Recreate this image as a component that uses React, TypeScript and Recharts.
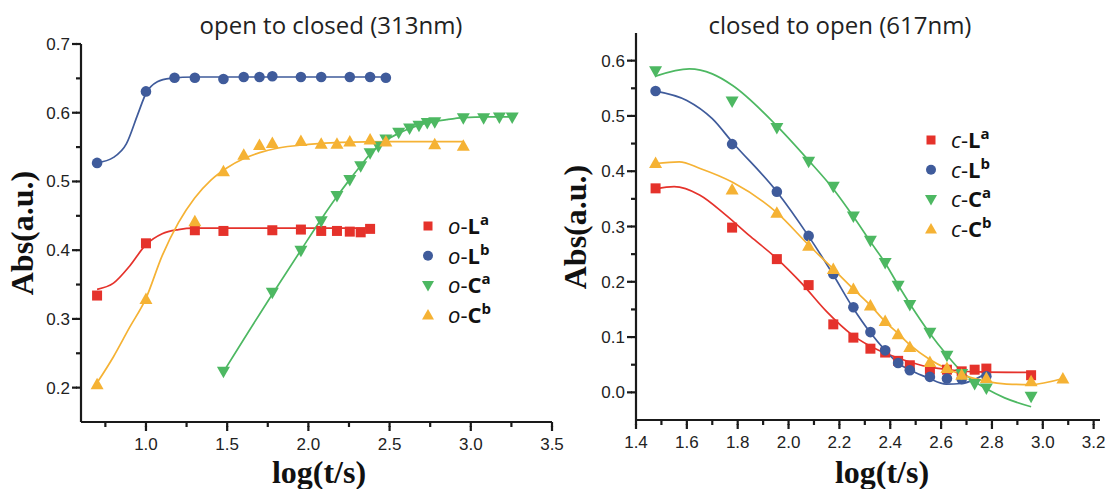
import React from 'react';
import { ComposedChart, Line, Scatter, XAxis, YAxis } from 'recharts';

// ---- open to closed (313nm): measured points [log(t/s), Abs] ----
const oLaPts = [[0.699, 0.334], [1.0, 0.410], [1.301, 0.429], [1.477, 0.428], [1.778, 0.429], [1.954, 0.430], [2.079, 0.428], [2.176, 0.428], [2.255, 0.427], [2.322, 0.426], [2.380, 0.431]];
const oLbPts = [[0.699, 0.527], [1.0, 0.631], [1.176, 0.651], [1.301, 0.651], [1.477, 0.649], [1.602, 0.652], [1.699, 0.652], [1.778, 0.653], [1.954, 0.652], [2.079, 0.652], [2.255, 0.652], [2.380, 0.652], [2.477, 0.651]];
const oCaPts = [[1.477, 0.223], [1.778, 0.338], [1.954, 0.399], [2.079, 0.442], [2.176, 0.479], [2.255, 0.502], [2.322, 0.522], [2.380, 0.541], [2.431, 0.551], [2.477, 0.561], [2.556, 0.571], [2.623, 0.577], [2.681, 0.581], [2.732, 0.585], [2.778, 0.586], [2.954, 0.592], [3.079, 0.592], [3.176, 0.593], [3.255, 0.593]];
const oCbPts = [[0.699, 0.205], [1.0, 0.329], [1.301, 0.442], [1.477, 0.515], [1.602, 0.539], [1.699, 0.553], [1.778, 0.556], [1.954, 0.559], [2.079, 0.555], [2.176, 0.555], [2.255, 0.558], [2.380, 0.561], [2.477, 0.558], [2.778, 0.554], [2.954, 0.552]];

// fitted curves
const oLaFit = [[0.699, 0.343], [0.8, 0.352], [0.9, 0.377], [1.0, 0.408], [1.1, 0.424], [1.2, 0.430], [1.3, 0.432], [1.8, 0.432], [2.38, 0.432]];
const oLbFit = [[0.699, 0.527], [0.8, 0.535], [0.88, 0.555], [0.95, 0.598], [1.0, 0.628], [1.07, 0.645], [1.15, 0.650], [1.3, 0.652], [2.477, 0.652]];
const oCaFit = [[1.477, 0.223], [1.778, 0.336], [1.954, 0.400], [2.079, 0.445], [2.176, 0.478], [2.255, 0.503], [2.322, 0.523], [2.38, 0.540], [2.477, 0.560], [2.556, 0.570], [2.623, 0.577], [2.732, 0.585], [2.85, 0.590], [2.954, 0.593], [3.1, 0.594], [3.255, 0.594]];
const oCbFit = [[0.699, 0.207], [0.8, 0.245], [0.9, 0.288], [1.0, 0.330], [1.1, 0.392], [1.2, 0.440], [1.3, 0.476], [1.4, 0.502], [1.5, 0.520], [1.6, 0.533], [1.7, 0.542], [1.8, 0.548], [2.0, 0.554], [2.2, 0.557], [2.5, 0.558], [2.954, 0.558]];

// ---- closed to open (617nm) ----
const cLaPts = [[1.477, 0.369], [1.778, 0.298], [1.954, 0.241], [2.079, 0.194], [2.176, 0.123], [2.255, 0.099], [2.322, 0.079], [2.380, 0.072], [2.431, 0.057], [2.477, 0.049], [2.556, 0.041], [2.623, 0.041], [2.681, 0.038], [2.732, 0.041], [2.778, 0.043], [2.954, 0.031]];
const cLbPts = [[1.477, 0.545], [1.778, 0.449], [1.954, 0.363], [2.079, 0.283], [2.176, 0.214], [2.255, 0.154], [2.322, 0.109], [2.380, 0.076], [2.431, 0.053], [2.477, 0.040], [2.556, 0.028], [2.623, 0.025], [2.681, 0.024], [2.778, 0.029]];
const cCaPts = [[1.477, 0.581], [1.778, 0.526], [1.954, 0.478], [2.079, 0.417], [2.176, 0.372], [2.255, 0.318], [2.322, 0.274], [2.380, 0.234], [2.431, 0.193], [2.477, 0.158], [2.556, 0.108], [2.623, 0.066], [2.681, 0.033], [2.732, 0.015], [2.778, 0.007], [2.954, -0.008]];
const cCbPts = [[1.477, 0.415], [1.778, 0.367], [1.954, 0.325], [2.079, 0.265], [2.176, 0.223], [2.255, 0.187], [2.322, 0.157], [2.380, 0.129], [2.431, 0.105], [2.477, 0.082], [2.556, 0.055], [2.623, 0.044], [2.681, 0.032], [2.778, 0.026], [2.954, 0.020], [3.079, 0.025]];

const cLaFit = [[1.477, 0.368], [1.55, 0.372], [1.65, 0.357], [1.75, 0.322], [1.85, 0.282], [1.954, 0.242], [2.05, 0.198], [2.15, 0.146], [2.25, 0.104], [2.35, 0.077], [2.45, 0.059], [2.55, 0.046], [2.65, 0.040], [2.75, 0.037], [2.954, 0.036]];
const cLbFit = [[1.477, 0.545], [1.6, 0.528], [1.7, 0.495], [1.78, 0.452], [1.954, 0.363], [2.078, 0.283], [2.174, 0.214], [2.252, 0.154], [2.32, 0.109], [2.38, 0.076], [2.43, 0.053], [2.48, 0.040], [2.55, 0.026], [2.62, 0.015], [2.68, 0.016], [2.73, 0.023], [2.78, 0.035]];
const cCaFit = [[1.477, 0.572], [1.61, 0.585], [1.7, 0.576], [1.78, 0.555], [1.954, 0.482], [2.078, 0.420], [2.176, 0.368], [2.255, 0.318], [2.32, 0.274], [2.38, 0.234], [2.43, 0.195], [2.48, 0.158], [2.554, 0.108], [2.622, 0.068], [2.68, 0.038], [2.73, 0.020], [2.78, 0.006], [2.85, -0.010], [2.954, -0.026]];
const cCbFit = [[1.477, 0.414], [1.57, 0.417], [1.652, 0.405], [1.78, 0.380], [1.954, 0.325], [2.078, 0.267], [2.176, 0.223], [2.255, 0.187], [2.323, 0.157], [2.38, 0.128], [2.432, 0.106], [2.48, 0.085], [2.554, 0.060], [2.622, 0.043], [2.681, 0.032], [2.776, 0.020], [2.858, 0.015], [2.95, 0.014], [3.079, 0.025]];

// ticks (majors get a label, the rest are minor ticks)
const leftXTicks = [0.75, 1.0, 1.25, 1.5, 1.75, 2.0, 2.25, 2.5, 2.75, 3.0, 3.25, 3.5];
const leftYTicks = [0.2, 0.25, 0.3, 0.35, 0.4, 0.45, 0.5, 0.55, 0.6, 0.65, 0.7];
const rightXTicks = [1.4, 1.5, 1.6, 1.7, 1.8, 1.9, 2.0, 2.1, 2.2, 2.3, 2.4, 2.5, 2.6, 2.7, 2.8, 2.9, 3.0, 3.1, 3.2];
const rightYTicks = [0, 0.05, 0.1, 0.15, 0.2, 0.25, 0.3, 0.35, 0.4, 0.45, 0.5, 0.55, 0.6];

const leftTitle = 'open to closed (313nm)';
const rightTitle = 'closed to open (617nm)';
const xTitle = 'log(t/s)';
const yTitle = 'Abs(a.u.)';
const leftLegend = [['o', 'L', 'a'], ['o', 'L', 'b'], ['o', 'C', 'a'], ['o', 'C', 'b']];
const rightLegend = [['c', 'L', 'a'], ['c', 'L', 'b'], ['c', 'C', 'a'], ['c', 'C', 'b']];

const RED = '#e5322b';
const BLUE = '#3f5b9b';
const GREEN = '#4db862';
const ORANGE = '#f5b234';
const COLORS = [RED, BLUE, GREEN, ORANGE];
const AXIS = '#1a1a1a';
const TICK_FONT = '"Liberation Sans", Arial, sans-serif';
const MINOR = 5; // native tick length, majors get a few px more

const toXY = (arr: number[][]) => arr.map(([x, y]) => ({ x, y }));

const isMajor = (v: number, perUnit: number) => Math.abs(v * perUnit - Math.round(v * perUnit)) < 1e-6;

// x / y arrive already offset by the native tick length
const makeXTick = (perUnit: number) => (props: any) => {
  const { x, y, payload } = props;
  if (!isMajor(payload.value, perUnit)) return <g />;
  return (
    <g>
      <rect x={x - 1.1} y={y - 1} width={2.2} height={5} fill={AXIS} />
      <text x={x} y={y + 23} textAnchor="middle" fontSize={17} fill="#222" fontFamily={TICK_FONT}>
        {payload.value.toFixed(1)}
      </text>
    </g>
  );
};

const makeYTick = (perUnit: number) => (props: any) => {
  const { x, y, payload } = props;
  if (!isMajor(payload.value, perUnit)) return <g />;
  return (
    <g>
      <rect x={x - 4} y={y - 1.1} width={5} height={2.2} fill={AXIS} />
      <text x={x - 6} y={y + 6} textAnchor="end" fontSize={17} fill="#222" fontFamily={TICK_FONT}>
        {payload.value.toFixed(1)}
      </text>
    </g>
  );
};

// marker shapes for the four series
const square = (color: string) => (p: any) => <rect x={p.cx - 5} y={p.cy - 5} width={10} height={10} fill={color} />;
const circle = (color: string) => (p: any) => <circle cx={p.cx} cy={p.cy} r={5.3} fill={color} />;
const triDown = (color: string) => (p: any) => (
  <polygon points={`${p.cx - 6.5},${p.cy - 5} ${p.cx + 6.5},${p.cy - 5} ${p.cx},${p.cy + 6.5}`} fill={color} />
);
const triUp = (color: string) => (p: any) => (
  <polygon points={`${p.cx - 6.5},${p.cy + 5} ${p.cx + 6.5},${p.cy + 5} ${p.cx},${p.cy - 6.5}`} fill={color} />
);
const SHAPES = [square(RED), circle(BLUE), triDown(GREEN), triUp(ORANGE)];

const LegendMarker = ({ i, x, y }: { i: number; x: number; y: number }) => {
  const c = COLORS[i];
  if (i === 0) return <rect x={x - 4.5} y={y - 4.5} width={9} height={9} fill={c} />;
  if (i === 1) return <circle cx={x} cy={y} r={5} fill={c} />;
  if (i === 2) return <polygon points={`${x - 6},${y - 4.5} ${x + 6},${y - 4.5} ${x},${y + 6}`} fill={c} />;
  return <polygon points={`${x - 6},${y + 4.5} ${x + 6},${y + 4.5} ${x},${y - 6}`} fill={c} />;
};

const Legend = ({ items, mx, tx, y0 }: { items: string[][]; mx: number; tx: number; y0: number }) => (
  <g>
    {items.map((it, i) => {
      const y = y0 + i * 29.7;
      return (
        <g key={i}>
          <LegendMarker i={i} x={mx} y={y} />
          <text x={tx} y={y + 8} fontSize={22} fill="#111" fontFamily='"Open Sans", sans-serif'>
            <tspan fontStyle="italic">{it[0]}</tspan>
            <tspan>-</tspan>
            <tspan fontWeight="bold">{it[1]}</tspan>
            <tspan fontWeight="bold" fontSize={15} dy={-9}>{it[2]}</tspan>
          </text>
        </g>
      );
    })}
  </g>
);

const Panel = ({ pts, fits, xDomain, yDomain, xTicks, yTicks, xPer, yPer, width, margin }: any) => (
  <ComposedChart width={width} height={489} margin={margin}>
    <XAxis
      type="number"
      dataKey="x"
      domain={xDomain}
      ticks={xTicks}
      interval={0}
      allowDataOverflow
      height={30}
      tickSize={MINOR}
      tickMargin={0}
      stroke={AXIS}
      tickLine={{ stroke: AXIS, strokeWidth: 2.2 }}
      axisLine={{ stroke: AXIS, strokeWidth: 2.2 }}
      tick={makeXTick(xPer)}
    />
    <YAxis
      type="number"
      dataKey="y"
      domain={yDomain}
      ticks={yTicks}
      interval={0}
      allowDataOverflow
      width={50}
      tickSize={MINOR}
      tickMargin={0}
      stroke={AXIS}
      tickLine={{ stroke: AXIS, strokeWidth: 2.2 }}
      axisLine={{ stroke: AXIS, strokeWidth: 2.2 }}
      tick={makeYTick(yPer)}
    />
    {fits.map((f: number[][], i: number) => (
      <Line
        key={`fit-${i}`}
        data={toXY(f)}
        dataKey="y"
        type="monotone"
        stroke={COLORS[i]}
        strokeWidth={1.7}
        dot={false}
        activeDot={false}
        isAnimationActive={false}
      />
    ))}
    {pts.map((p: number[][], i: number) => (
      <Scatter key={`pts-${i}`} data={toXY(p)} dataKey="y" fill={COLORS[i]} shape={SHAPES[i]} isAnimationActive={false} />
    ))}
  </ComposedChart>
);

export default function App() {
  const serif = '"Liberation Serif", "Times New Roman", serif';
  const sans = '"Open Sans", sans-serif';
  return (
    <div style={{ position: 'absolute', left: 0, top: 0, width: 1110, height: 489, background: '#fff', overflow: 'hidden' }}>
      <div style={{ position: 'absolute', left: 0, top: 0 }}>
        <Panel
          pts={[oLaPts, oLbPts, oCaPts, oCbPts]}
          fits={[oLaFit, oLbFit, oCaFit, oCbFit]}
          xDomain={[0.6, 3.5]}
          yDomain={[0.15, 0.7]}
          xTicks={leftXTicks}
          yTicks={leftYTicks}
          xPer={2}
          yPer={10}
          width={575}
          margin={{ top: 44, right: 23, bottom: 37, left: 31 }}
        />
      </div>
      <div style={{ position: 'absolute', left: 560, top: 0 }}>
        <Panel
          pts={[cLaPts, cLbPts, cCaPts, cCbPts]}
          fits={[cLaFit, cLbFit, cCaFit, cCbFit]}
          xDomain={[1.4, 3.225]}
          yDomain={[-0.05, 0.65]}
          xTicks={rightXTicks}
          yTicks={rightYTicks}
          xPer={5}
          yPer={10}
          width={550}
          margin={{ top: 33, right: 10, bottom: 39, left: 26 }}
        />
      </div>
      <svg width={1110} height={489} style={{ position: 'absolute', left: 0, top: 0, pointerEvents: 'none' }}>
        <text x={331} y={34} textAnchor="middle" fontSize={24} fill="#222" fontFamily={sans}>{leftTitle}</text>
        <text x={840} y={34} textAnchor="middle" fontSize={24} fill="#222" fontFamily={sans}>{rightTitle}</text>
        <text x={319} y={483} textAnchor="middle" fontSize={32} fontWeight="bold" fill="#111" fontFamily={serif}>{xTitle}</text>
        <text x={882} y={483} textAnchor="middle" fontSize={32} fontWeight="bold" fill="#111" fontFamily={serif}>{xTitle}</text>
        <text transform="translate(33,233) rotate(-90)" textAnchor="middle" fontSize={32} fontWeight="bold" fill="#111" fontFamily={serif}>{yTitle}</text>
        <text transform="translate(586,227) rotate(-90)" textAnchor="middle" fontSize={32} fontWeight="bold" fill="#111" fontFamily={serif}>{yTitle}</text>
        <Legend items={leftLegend} mx={428} tx={448} y0={226} />
        <Legend items={rightLegend} mx={931} tx={951} y0={140} />
      </svg>
    </div>
  );
}
